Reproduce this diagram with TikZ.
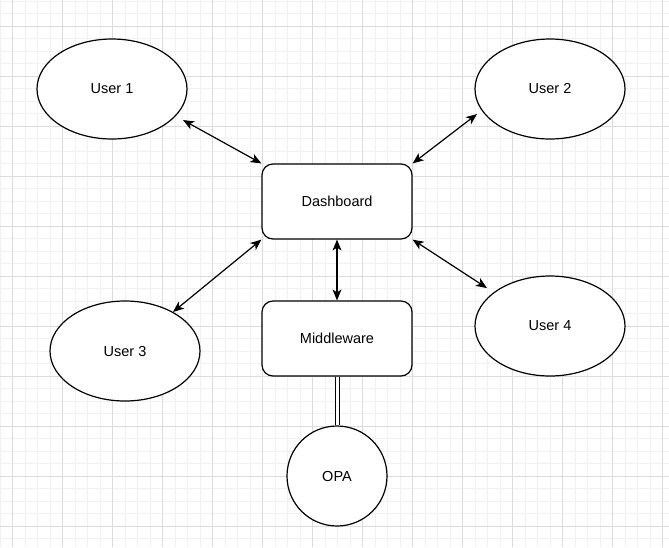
\documentclass[tikz,border=0pt]{standalone}
\usepackage{fontspec}
\setmainfont{Liberation Sans}
\usetikzlibrary{shapes.geometric,arrows.meta,calc}
\definecolor{gridminor}{HTML}{F1F1F1}
\definecolor{gridmajor}{HTML}{DCDCDC}
\tikzset{
  usr/.style={ellipse,draw,fill=white,line width=1.2pt,minimum width=150pt,minimum height=100pt,inner sep=0pt,font=\fontsize{14.5}{17}\selectfont},
  boxnode/.style={rectangle,rounded corners=11pt,draw,fill=white,line width=1.2pt,minimum width=150pt,minimum height=75pt,inner sep=0pt,font=\fontsize{14.5}{17}\selectfont},
  circnode/.style={circle,draw,fill=white,line width=1.2pt,minimum size=100pt,inner sep=0pt,font=\fontsize{14.5}{17}\selectfont},
  biarrow/.style={line width=1.2pt,{Stealth[length=11pt,width=9pt,inset=3pt]}-{Stealth[length=11pt,width=9pt,inset=3pt]}},
  dbl/.style={double,double distance=3pt,line width=1pt}
}
\begin{document}
\begin{tikzpicture}[x=1pt,y=-1pt]
\useasboundingbox (0,0) rectangle (669,547);
\fill[white] (0,0) rectangle (669,547);
% grid
\foreach \i in {0,...,54} {
  \draw[gridminor,line width=1pt] ({\i*12.5},0) -- ({\i*12.5},547);
}
\foreach \i in {0,...,44} {
  \draw[gridminor,line width=1pt] (0,{1+\i*12.5}) -- (669,{1+\i*12.5});
}
\foreach \i in {0,...,13} {
  \draw[gridmajor,line width=1pt] ({12.5+\i*50},0) -- ({12.5+\i*50},547);
}
\foreach \i in {0,...,10} {
  \draw[gridmajor,line width=1pt] (0,{26+\i*50}) -- (669,{26+\i*50});
}
% nodes
\node[usr] (u1) at (112,89) {User 1};
\node[usr] (u2) at (550,89) {User 2};
\node[usr] (u3) at (125,351) {User 3};
\node[usr] (u4) at (550,326) {User 4};
\node[boxnode] (d) at (337,201.5) {Dashboard};
\node[boxnode] (m) at (337,338.5) {Middleware};
\node[circnode] (o) at (337,476) {OPA};
% connectors
\draw[biarrow,shorten >=8.8pt] (d.north west) -- ($(u1.center)+(63.3,26.8)$);
\draw[biarrow,shorten >=6pt] (d.north east) -- ($(u2.center)+(-68.2,21.4)$);
\draw[biarrow] (d.south west) -- ($(u3.center)+(48,-39)$);
\draw[biarrow,shorten >=8.5pt] (d.south east) -- ($(u4.center)+(-55.9,-33.3)$);
\draw[biarrow] (d.south) -- (m.north);
\draw[dbl] (m.south) -- (o.north);
\end{tikzpicture}
\end{document}
